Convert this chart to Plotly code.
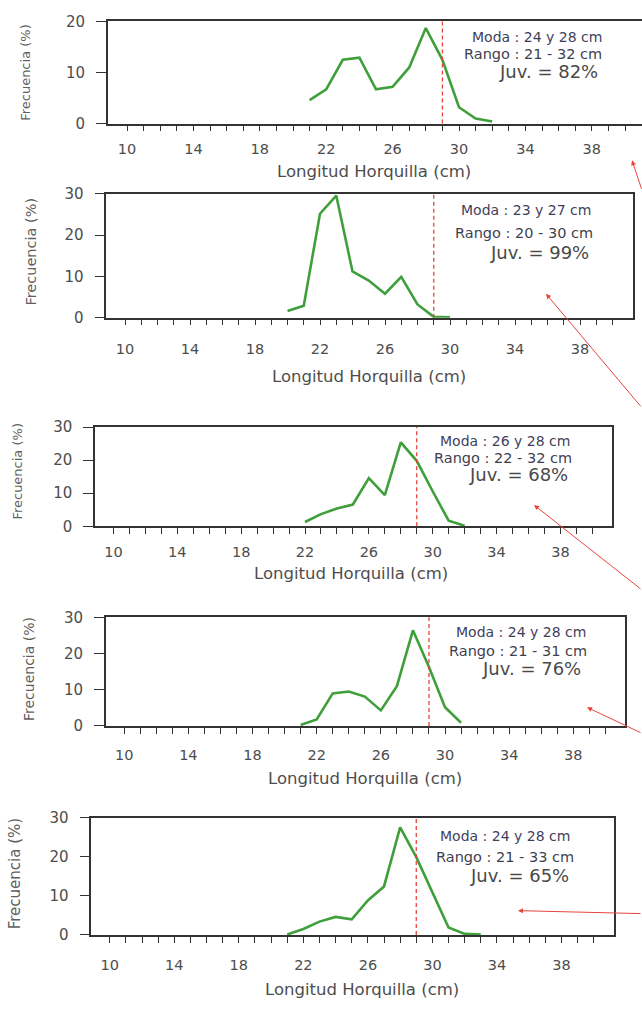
import plotly.graph_objects as go

# ---------------- data ----------------
lengths_1 = [21, 22, 23, 24, 25, 26, 27, 28, 29, 30, 31, 32]
freq_1 = [4.6, 6.7, 12.5, 12.9, 6.7, 7.2, 11.0, 18.7, 12.5, 3.2, 1.0, 0.4]

lengths_2 = [20, 21, 22, 23, 24, 25, 26, 27, 28, 29, 30]
freq_2 = [1.6, 2.9, 25.2, 29.6, 11.2, 9.0, 5.8, 9.9, 3.2, 0.2, 0.1]

lengths_3 = [22, 23, 24, 25, 26, 27, 28, 29, 30, 31, 32]
freq_3 = [1.3, 3.7, 5.4, 6.6, 14.6, 9.4, 25.4, 19.8, 10.6, 1.7, 0.2]

lengths_4 = [21, 22, 23, 24, 25, 26, 27, 28, 29, 30, 31]
freq_4 = [0.3, 1.8, 9.0, 9.5, 8.1, 4.3, 11.0, 26.4, 16.3, 5.2, 0.9]

lengths_5 = [21, 22, 23, 24, 25, 26, 27, 28, 29, 30, 31, 32, 33]
freq_5 = [0.1, 1.5, 3.4, 4.6, 4.0, 8.8, 12.4, 27.5, 19.9, 10.7, 1.9, 0.25, 0.1]

juvenile_threshold = 29  # cm (red dashed line)

moda_labels = ["Moda : 24 y 28 cm", "Moda : 23 y 27 cm", "Moda : 26 y 28 cm",
               "Moda : 24 y 28 cm", "Moda : 24 y 28 cm"]
rango_labels = ["Rango : 21 - 32 cm", "Rango : 20 - 30 cm", "Rango : 22 - 32 cm",
                "Rango : 21 - 31 cm", "Rango : 21 - 33 cm"]
juv_labels = ["Juv. = 82%", "Juv. = 99%", "Juv. = 68%", "Juv. = 76%", "Juv. = 65%"]

x_tick_values = list(range(10, 41))
x_tick_labels = [str(v) if (v - 10) % 4 == 0 and v <= 38 else "" for v in x_tick_values]
y_max = [20, 30, 30, 30, 30]

x_title = "Longitud Horquilla (cm)"
y_title = "Frecuencia (%)"

series_x = [lengths_1, lengths_2, lengths_3, lengths_4, lengths_5]
series_y = [freq_1, freq_2, freq_3, freq_4, freq_5]

# ---------------- layout geometry (pixels in a 642x1010 page) ----------------
W, H = 642, 1010


def px(v):
    return v / W


def py(v):
    return 1 - v / H


X_START = 8.85
X_END = 41.25

# pixel of x=10, pixels per cm, plot top px, plot bottom px, label placements
geo = [
    dict(x10=127.0, s=16.6, top=12.7, bot=116.7, std=5,
         ytitle=(26, 65, 13), xtitle=(374, 165),
         moda=(537, 28), rango=(533, 46), juv=(548, 64)),
    dict(x10=125.0, s=16.25, top=188.3, bot=314.3, std=11,
         ytitle=(31, 247, 14.5), xtitle=(369, 374),
         moda=(526, 205), rango=(524, 228), juv=(539, 248)),
    dict(x10=113.5, s=15.96, top=425.7, bot=526.7, std=6,
         ytitle=(18, 471, 13), xtitle=(351, 575),
         moda=(505, 440), rango=(503, 457), juv=(518, 474)),
    dict(x10=124.2, s=16.04, top=619.3, bot=730.0, std=9,
         ytitle=(29, 672, 14), xtitle=(365, 783),
         moda=(521, 634), rango=(518, 654), juv=(531, 671)),
    dict(x10=109.8, s=16.13, top=823.3, bot=942.7, std=10,
         ytitle=(15, 881, 15), xtitle=(362, 998),
         moda=(505, 842), rango=(505, 863), juv=(519, 882)),
]

FONT = "DejaVu Sans"
fig = go.Figure()
annotations = []
shapes = []

for i, g in enumerate(geo):
    n = "" if i == 0 else str(i + 1)
    left = g["x10"] - (10 - X_START) * g["s"]
    right = g["x10"] + (X_END - 10) * g["s"]
    x_end = X_END
    if right > W:
        right = W
        x_end = 10 + (W - g["x10"]) / g["s"]

    fig.add_trace(go.Scatter(
        x=series_x[i], y=series_y[i], mode="lines",
        line=dict(color="#3f9f3a", width=2.6),
        xaxis="x" + n, yaxis="y" + n, showlegend=False, hoverinfo="skip"))

    fig.layout["xaxis" + n] = dict(
        domain=[px(left), px(right)], range=[X_START, x_end], anchor="y" + n,
        tickmode="array", tickvals=x_tick_values, ticktext=x_tick_labels,
        ticks="outside", ticklen=6, tickwidth=1.4, tickcolor="#333333",
        showline=True, linecolor="#333333", linewidth=1.5, mirror=True,
        showgrid=False, zeroline=False, ticklabelstandoff=g["std"],
        tickfont=dict(family=FONT, size=14.5, color="#4d4d4d"))
    fig.layout["yaxis" + n] = dict(
        domain=[py(g["bot"]), py(g["top"])], range=[0, y_max[i]], anchor="x" + n,
        tickmode="array", tickvals=list(range(0, y_max[i] + 1, 10)),
        ticks="outside", ticklen=10, tickwidth=1.4, tickcolor="#333333",
        showline=True, linecolor="#333333", linewidth=1.5, mirror=(i != 0),
        showgrid=False, zeroline=False, ticklabelstandoff=8,
        tickfont=dict(family=FONT, size=15, color="#4d4d4d"))

    # juvenile threshold line
    shapes.append(dict(type="line", xref="x" + n, yref="y" + n + " domain",
                       x0=juvenile_threshold, x1=juvenile_threshold, y0=0, y1=1,
                       line=dict(color="#e8453c", width=1.3, dash="4px,3px")))

    yt = g["ytitle"]
    annotations.append(dict(text=y_title, x=px(yt[0]), y=py(yt[1]), xref="paper", yref="paper",
                            showarrow=False, textangle=-90, xanchor="center", yanchor="middle",
                            font=dict(family=FONT, size=yt[2], color="#5f5f5f")))
    xt = g["xtitle"]
    annotations.append(dict(text=x_title, x=px(xt[0]), y=py(xt[1]), xref="paper", yref="paper",
                            showarrow=False, xanchor="center", yanchor="middle",
                            font=dict(family=FONT, size=16.5, color="#4d4d4d")))
    for key, txt, size, col in [("moda", moda_labels[i], 14, "#3f3f5c"),
                                ("rango", rango_labels[i], 14.5, "#3f3f50"),
                                ("juv", juv_labels[i], 18, "#4a4a4a")]:
        pos = g[key]
        annotations.append(dict(text=txt, x=px(pos[0]), y=py(pos[1]), xref="paper", yref="paper",
                                showarrow=False, xanchor="center", yanchor="middle",
                                font=dict(family=FONT, size=size, color=col)))

# red pointer arrows drawn on the scanned page (head px, offset to tail px)
arrows = [((632, 154), (12, 30)), ((546, 290), (96, 114)), ((534, 505), (108, 85)),
          ((587, 711), (55, 26)), ((518, 918), (124, 3))]
for (hx, hy), (dx, dy) in arrows:
    annotations.append(dict(text="", x=px(hx), y=py(hy), xref="paper", yref="paper",
                            showarrow=True, ax=dx, ay=dy, arrowhead=2, arrowsize=1,
                            arrowwidth=1, arrowcolor="#e8453c"))

fig.update_layout(width=W, height=H, margin=dict(l=0, r=0, t=0, b=0),
                  paper_bgcolor="white", plot_bgcolor="white",
                  shapes=shapes, annotations=annotations, showlegend=False)

fig.write_html("out.html", config={"displayModeBar": False},
               post_script="document.body.style.margin='0';document.body.style.overflow='hidden';")
